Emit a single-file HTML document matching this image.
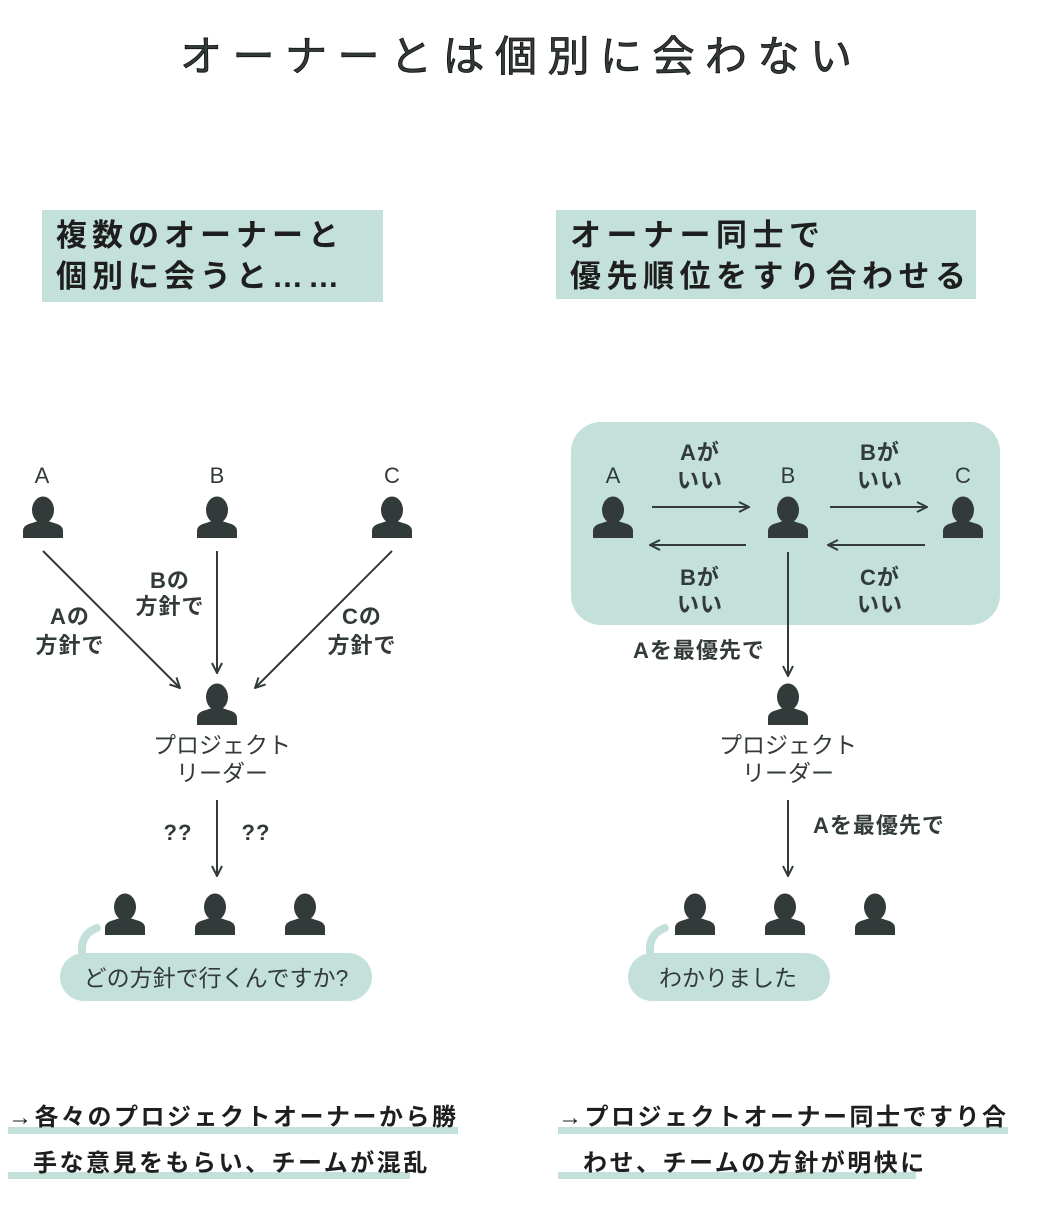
<!DOCTYPE html>
<html><head><meta charset="utf-8"><style>
html,body{margin:0;padding:0;background:#fff;}
body{width:1046px;height:1216px;position:relative;overflow:hidden;}
svg{position:absolute;left:0;top:0;}
text{font-family:"Liberation Sans","Noto Sans CJK JP",sans-serif;fill:#333a3a;}
.b{font-weight:bold;fill:#1e1e1e;}
</style></head><body>
<svg width="1046" height="1216" viewBox="0 0 1046 1216">
<defs>
<symbol id="p" viewBox="-21 -23 42 42" overflow="visible">
<ellipse cx="0" cy="-9" rx="11" ry="13.5" fill="#333a3a"/>
<path d="M-20,19 L-20,12 Q-20,6 -11,4 L-5,2 L5,2 L11,4 Q20,6 20,12 L20,19 Z" fill="#333a3a"/>
</symbol>
<marker id="ar" viewBox="0 0 12 12" refX="11" refY="6" markerWidth="12" markerHeight="12" markerUnits="userSpaceOnUse" orient="auto">
<path d="M1,1 L11,6 L1,11" fill="none" stroke="#333a3a" stroke-width="2"/>
</marker>
</defs>

<text x="180" y="71" font-size="42" letter-spacing="10.5" fill="#111" stroke="#111" stroke-width="0.8">オーナーとは個別に会わない</text>

<rect x="42" y="210" width="341" height="92" fill="#c3e0da"/>
<text x="56" y="246" class="b" font-size="31" letter-spacing="5">複数のオーナーと</text>
<text x="56" y="287" class="b" font-size="31" letter-spacing="5">個別に会うと……</text>
<rect x="556" y="210" width="420" height="89" fill="#c3e0da"/>
<text x="570" y="246" class="b" font-size="31" letter-spacing="5.5">オーナー同士で</text>
<text x="570" y="287" class="b" font-size="31" letter-spacing="5.5">優先順位をすり合わせる</text>

<!-- left diagram -->
<g font-size="22" text-anchor="middle">
<text x="42" y="483">A</text><text x="217" y="483">B</text><text x="392" y="483">C</text>
</g>
<use href="#p" x="22" y="496" width="42" height="42"/>
<use href="#p" x="196" y="496" width="42" height="42"/>
<use href="#p" x="371" y="496" width="42" height="42"/>
<g stroke="#333a3a" stroke-width="2" fill="none" marker-end="url(#ar)">
<line x1="43" y1="551" x2="180" y2="688"/>
<line x1="217" y1="551" x2="217" y2="673"/>
<line x1="392" y1="551" x2="255" y2="688"/>
<line x1="217" y1="800" x2="217" y2="876"/>
</g>
<g font-size="22" font-weight="bold" text-anchor="middle" letter-spacing="1">
<text x="70" y="624">Aの</text><text x="70" y="653">方針で</text>
<text x="170" y="588">Bの</text><text x="170" y="614">方針で</text>
<text x="362" y="624">Cの</text><text x="362" y="653">方針で</text>
<text x="178" y="840">??</text><text x="256" y="840">??</text>
</g>
<use href="#p" x="196" y="683" width="42" height="42"/>
<g font-size="23" text-anchor="middle">
<text x="222" y="753">プロジェクト</text><text x="222" y="781">リーダー</text>
</g>
<use href="#p" x="104" y="893" width="42" height="42"/>
<use href="#p" x="194" y="893" width="42" height="42"/>
<use href="#p" x="284" y="893" width="42" height="42"/>
<path d="M83,958 Q78,935 97,928" stroke="#c3e0da" stroke-width="8" fill="none" stroke-linecap="round"/>
<rect x="60" y="953" width="312" height="48" rx="24" fill="#c3e0da"/>
<text x="216" y="986" text-anchor="middle" font-size="23">どの方針で行くんですか?</text>

<rect x="8" y="1127" width="450" height="7" fill="#c3e0da"/>
<rect x="8" y="1172" width="402" height="7" fill="#c3e0da"/>
<text x="8" y="1125" class="b" font-size="24" letter-spacing="2.5">→各々のプロジェクトオーナーから勝</text>
<text x="33" y="1171" class="b" font-size="24" letter-spacing="2.5">手な意見をもらい、チームが混乱</text>

<!-- right diagram -->
<rect x="571" y="422" width="429" height="203" rx="30" fill="#c3e0da"/>
<g font-size="22" text-anchor="middle">
<text x="613" y="483">A</text><text x="788" y="483">B</text><text x="963" y="483">C</text>
</g>
<use href="#p" x="592" y="496" width="42" height="42"/>
<use href="#p" x="767" y="496" width="42" height="42"/>
<use href="#p" x="942" y="496" width="42" height="42"/>
<g stroke="#333a3a" stroke-width="2" fill="none" marker-end="url(#ar)">
<line x1="652" y1="507" x2="749" y2="507"/>
<line x1="746" y1="545" x2="650" y2="545"/>
<line x1="830" y1="507" x2="927" y2="507"/>
<line x1="925" y1="545" x2="828" y2="545"/>
<line x1="788" y1="552" x2="788" y2="676"/>
<line x1="788" y1="800" x2="788" y2="876"/>
</g>
<g font-size="22" font-weight="bold" text-anchor="middle" letter-spacing="1">
<text x="700" y="460">Aが</text><text x="700" y="488">いい</text>
<text x="880" y="460">Bが</text><text x="880" y="488">いい</text>
<text x="700" y="585">Bが</text><text x="700" y="612">いい</text>
<text x="880" y="585">Cが</text><text x="880" y="612">いい</text>
<text x="699" y="658">Aを最優先で</text>
<text x="879" y="833">Aを最優先で</text>
</g>
<use href="#p" x="767" y="683" width="42" height="42"/>
<g font-size="23" text-anchor="middle">
<text x="788" y="753">プロジェクト</text><text x="788" y="781">リーダー</text>
</g>
<use href="#p" x="674" y="893" width="42" height="42"/>
<use href="#p" x="764" y="893" width="42" height="42"/>
<use href="#p" x="854" y="893" width="42" height="42"/>
<path d="M651,958 Q646,935 665,928" stroke="#c3e0da" stroke-width="8" fill="none" stroke-linecap="round"/>
<rect x="628" y="953" width="202" height="48" rx="24" fill="#c3e0da"/>
<text x="728" y="986" text-anchor="middle" font-size="23">わかりました</text>

<rect x="558" y="1127" width="450" height="7" fill="#c3e0da"/>
<rect x="558" y="1172" width="358" height="7" fill="#c3e0da"/>
<text x="558" y="1125" class="b" font-size="24" letter-spacing="2.5">→プロジェクトオーナー同士ですり合</text>
<text x="583" y="1171" class="b" font-size="24" letter-spacing="2.5">わせ、チームの方針が明快に</text>
</svg>
</body></html>
